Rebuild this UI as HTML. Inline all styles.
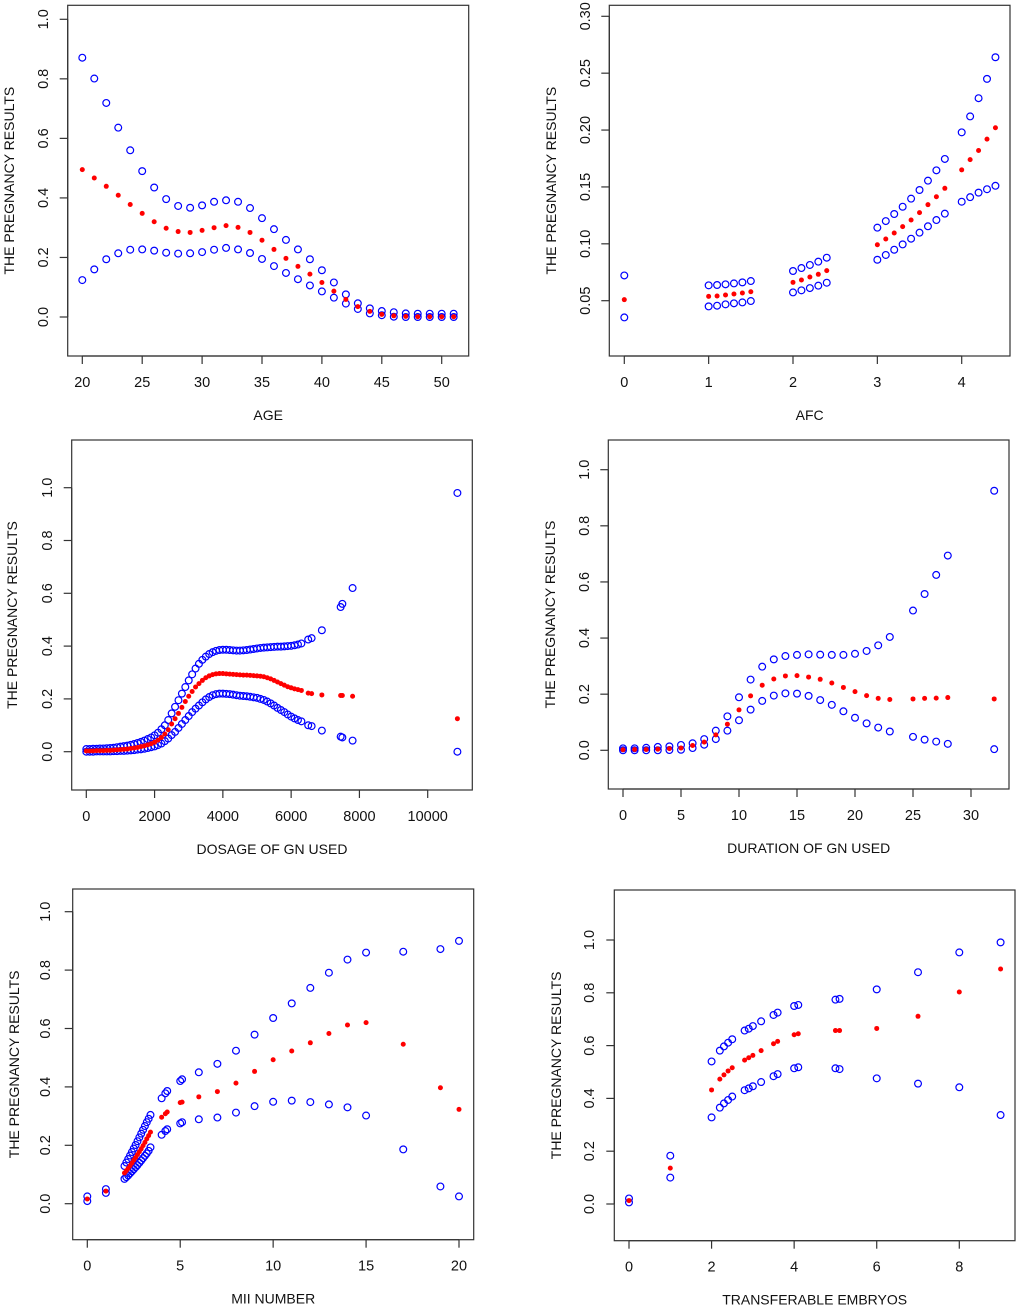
<!DOCTYPE html>
<html><head><meta charset="utf-8">
<style>
html,body{margin:0;padding:0;background:#fff;}
svg{display:block;font-family:"Liberation Sans",Arial,sans-serif;}
</style></head>
<body>
<svg id="chart" width="1020" height="1309" viewBox="0 0 1020 1309" xmlns="http://www.w3.org/2000/svg"></svg>
<script>
// ---- Panel 1: AGE ----
const ageX = [20,21,22,23,24,25,26,27,28,29,30,31,32,33,34,35,36,37,38,39,40,41,42,43,44,45,46,47,48,49,50,51];
const ageUpper = [0.871,0.801,0.719,0.636,0.560,0.490,0.435,0.396,0.373,0.367,0.375,0.387,0.392,0.387,0.366,0.332,0.295,0.259,0.227,0.194,0.157,0.116,0.076,0.046,0.029,0.020,0.016,0.012,0.011,0.011,0.011,0.011];
const ageMid = [0.495,0.467,0.439,0.409,0.378,0.348,0.320,0.298,0.287,0.284,0.291,0.300,0.307,0.301,0.284,0.258,0.227,0.197,0.170,0.144,0.116,0.087,0.059,0.035,0.019,0.009,0.004,0.002,0.001,0.001,0.001,0.001];
const ageLower = [0.124,0.160,0.194,0.214,0.226,0.227,0.223,0.216,0.213,0.214,0.218,0.226,0.232,0.227,0.215,0.195,0.171,0.148,0.127,0.106,0.086,0.065,0.045,0.027,0.012,0.006,0.001,0,0,0,0,0];
const ageXTicks = [20,25,30,35,40,45,50];
const ageYTicks = ["0.0","0.2","0.4","0.6","0.8","1.0"];

// ---- Panel 2: AFC ----
const afcX = [0,1,1.1,1.2,1.3,1.4,1.5,2,2.1,2.2,2.3,2.4,3,3.1,3.2,3.3,3.4,3.5,3.6,3.7,3.8,4,4.1,4.2,4.3,4.4];
const afcUpper = [0.0722,0.0635,0.0638,0.0644,0.0652,0.0661,0.0673,0.0761,0.0787,0.0814,0.0843,0.0878,0.1142,0.1200,0.1262,0.1326,0.1397,0.1473,0.1555,0.1646,0.1746,0.198,0.212,0.228,0.245,0.264];
const afcMid = [0.0509,0.0538,0.0541,0.0550,0.0559,0.0568,0.0579,0.0661,0.0682,0.0708,0.0732,0.0764,0.0992,0.1042,0.1095,0.1151,0.1209,0.1274,0.1344,0.1414,0.1488,0.165,0.174,0.182,0.192,0.202];
const afcLower = [0.0353,0.0450,0.0456,0.0468,0.0477,0.0485,0.0497,0.0573,0.0591,0.0611,0.0632,0.0658,0.0860,0.0902,0.0948,0.0995,0.1045,0.1098,0.1154,0.1209,0.1265,0.137,0.141,0.145,0.148,0.151];
const afcXTicks = [0,1,2,3,4];
const afcYTicks = ["0.05","0.10","0.15","0.20","0.25","0.30"];

// ---- Panel 3: DOSAGE OF GN USED ----
const doseX = [0,100,200,300,400,500,600,700,800,900,1000,1100,1200,1300,1400,1500,1600,1700,1800,1900,2000,2100,2200,2300,2400,2500,2600,2700,2800,2900,3000,3100,3200,3300,3400,3500,3600,3700,3800,3900,4000,4100,4200,4300,4400,4500,4600,4700,4800,4900,5000,5100,5200,5300,5400,5500,5600,5700,5800,5900,6000,6100,6200,6300,6500,6600,6900,7450,7500,7800,10870];
const doseUpper = [0.010,0.010,0.011,0.011,0.012,0.012,0.013,0.014,0.015,0.017,0.019,0.021,0.023,0.026,0.029,0.033,0.037,0.042,0.048,0.054,0.062,0.072,0.085,0.100,0.120,0.145,0.170,0.195,0.220,0.245,0.270,0.293,0.315,0.333,0.348,0.360,0.370,0.377,0.382,0.385,0.386,0.386,0.385,0.384,0.383,0.383,0.384,0.385,0.387,0.389,0.391,0.393,0.394,0.395,0.396,0.397,0.398,0.398,0.399,0.400,0.401,0.403,0.406,0.410,0.425,0.430,0.460,0.548,0.560,0.620,0.980];
const doseMid = [0.003,0.003,0.003,0.004,0.004,0.004,0.005,0.005,0.006,0.007,0.008,0.009,0.010,0.012,0.014,0.016,0.019,0.022,0.026,0.030,0.036,0.044,0.054,0.067,0.083,0.105,0.125,0.145,0.168,0.190,0.210,0.228,0.245,0.258,0.270,0.280,0.287,0.292,0.295,0.296,0.296,0.295,0.294,0.293,0.292,0.291,0.290,0.290,0.289,0.288,0.287,0.286,0.284,0.280,0.276,0.270,0.264,0.258,0.252,0.246,0.242,0.238,0.235,0.232,0.222,0.220,0.215,0.213,0.213,0.210,0.125];
const doseLower = [0.000,0.000,0.000,0.001,0.001,0.001,0.001,0.001,0.002,0.002,0.003,0.003,0.004,0.005,0.006,0.008,0.009,0.011,0.014,0.017,0.020,0.025,0.031,0.040,0.050,0.063,0.075,0.090,0.105,0.120,0.135,0.150,0.163,0.175,0.187,0.198,0.207,0.214,0.218,0.220,0.220,0.219,0.218,0.216,0.214,0.212,0.211,0.210,0.208,0.206,0.204,0.200,0.196,0.190,0.183,0.175,0.166,0.158,0.150,0.141,0.133,0.126,0.120,0.115,0.100,0.097,0.080,0.057,0.054,0.042,0.000];
const doseXTicks = [0,2000,4000,6000,8000,10000];
const doseYTicks = ["0.0","0.2","0.4","0.6","0.8","1.0"];

// ---- Panel 4: DURATION OF GN USED ----
const durX = [0,1,2,3,4,5,6,7,8,9,10,11,12,13,14,15,16,17,18,19,20,21,22,23,25,26,27,28,32];
const durUpper = [0.007,0.007,0.009,0.012,0.014,0.019,0.025,0.040,0.070,0.121,0.189,0.252,0.298,0.324,0.336,0.340,0.342,0.341,0.340,0.340,0.344,0.354,0.374,0.404,0.498,0.557,0.625,0.694,0.925];
const durMid = [0.002,0.003,0.003,0.004,0.006,0.008,0.017,0.029,0.055,0.093,0.144,0.194,0.232,0.254,0.265,0.266,0.261,0.253,0.240,0.224,0.209,0.195,0.185,0.181,0.183,0.185,0.186,0.188,0.183];
const durLower = [0.000,0.000,0.000,0.000,0.001,0.002,0.008,0.020,0.040,0.070,0.107,0.145,0.176,0.195,0.203,0.202,0.194,0.179,0.162,0.139,0.116,0.096,0.081,0.067,0.048,0.038,0.031,0.023,0.004];
const durXTicks = [0,5,10,15,20,25,30];
const durYTicks = ["0.0","0.2","0.4","0.6","0.8","1.0"];

// ---- Panel 5: MII NUMBER ----
const miiX = [0,1,2,2.1,2.2,2.3,2.4,2.5,2.6,2.7,2.8,2.9,3,3.1,3.2,3.3,3.4,4,4.2,4.3,5,5.1,6,7,8,9,10,11,12,13,14,15,17,19,20];
const miiUpper = [0.025,0.050,0.129,0.141,0.153,0.165,0.177,0.189,0.201,0.214,0.227,0.240,0.253,0.266,0.279,0.291,0.304,0.361,0.378,0.386,0.420,0.426,0.450,0.479,0.524,0.579,0.636,0.686,0.739,0.791,0.836,0.860,0.863,0.872,0.900];
const miiMid = [0.016,0.043,0.105,0.113,0.121,0.130,0.139,0.149,0.158,0.168,0.178,0.188,0.199,0.210,0.222,0.233,0.245,0.296,0.308,0.314,0.346,0.348,0.366,0.384,0.413,0.453,0.493,0.523,0.551,0.583,0.612,0.620,0.546,0.397,0.323];
const miiLower = [0.009,0.037,0.085,0.091,0.097,0.104,0.111,0.118,0.125,0.132,0.140,0.148,0.156,0.164,0.172,0.181,0.193,0.236,0.249,0.255,0.275,0.279,0.289,0.295,0.312,0.334,0.349,0.353,0.348,0.340,0.330,0.302,0.186,0.059,0.025];
const miiXTicks = [0,5,10,15,20];
const miiYTicks = ["0.0","0.2","0.4","0.6","0.8","1.0"];

// ---- Panel 6: TRANSFERABLE EMBRYOS ----
const embX = [0,1,2,2.2,2.3,2.4,2.5,2.8,2.9,3.0,3.2,3.5,3.6,4.0,4.1,5.0,5.1,6,7,8,9];
const embUpper = [0.021,0.183,0.540,0.581,0.597,0.611,0.624,0.657,0.664,0.674,0.692,0.716,0.725,0.750,0.754,0.774,0.777,0.813,0.878,0.953,0.991];
const embMid = [0.013,0.136,0.432,0.473,0.489,0.504,0.516,0.545,0.554,0.563,0.581,0.607,0.616,0.641,0.645,0.657,0.657,0.665,0.711,0.803,0.890];
const embLower = [0.006,0.100,0.328,0.365,0.381,0.394,0.407,0.431,0.438,0.446,0.462,0.484,0.492,0.514,0.518,0.514,0.511,0.476,0.456,0.442,0.337];
const embXTicks = [0,2,4,6,8];
const embYTicks = ["0.0","0.2","0.4","0.6","0.8","1.0"];

const NS = "http://www.w3.org/2000/svg";
const svg = document.getElementById("chart");
function mk(tag, attrs, parent){
  const e = document.createElementNS(NS, tag);
  for (const k in attrs) e.setAttribute(k, attrs[k]);
  (parent||svg).appendChild(e);
  return e;
}

// layout: box, and calibration (value->pixel) for each axis
const panels = [
  {name:"age", box:[67.7,5.3,468.7,356], xc:[20,82.3,50,441.7], yc:[0,317,1,19.3], xs:ageX, up:ageUpper, mid:ageMid, lo:ageLower, xt:ageXTicks, yt:ageYTicks, xtitle:"AGE", ylabX:43, ytitX:9},
  {name:"afc", box:[609.3,5.3,1010,356], xc:[0,624.3,4,961.7], yc:[0.05,300.7,0.30,16.3], xs:afcX, up:afcUpper, mid:afcMid, lo:afcLower, xt:afcXTicks, yt:afcYTicks, xtitle:"AFC", ylabX:585, ytitX:551},
  {name:"dosage", box:[71.7,440,472.3,790], xc:[0,86.3,10000,427.7], yc:[0,751.7,1,487.7], xs:doseX, up:doseUpper, mid:doseMid, lo:doseLower, xt:doseXTicks, yt:doseYTicks, xtitle:"DOSAGE OF GN USED", ylabX:47, ytitX:12},
  {name:"duration", box:[608.3,440,1009,789], xc:[0,623,30,971], yc:[0,750.3,1,469.7], xs:durX, up:durUpper, mid:durMid, lo:durLower, xt:durXTicks, yt:durYTicks, xtitle:"DURATION OF GN USED", ylabX:584, ytitX:550},
  {name:"mii", box:[72.7,889,473.7,1239.7], xc:[0,87.3,20,459], yc:[0,1203.7,1,911.7], xs:miiX, up:miiUpper, mid:miiMid, lo:miiLower, xt:miiXTicks, yt:miiYTicks, xtitle:"MII NUMBER", ylabX:45, ytitX:14},
  {name:"embryos", box:[614.3,890,1015,1240.7], xc:[0,629,8,959.3], yc:[0,1204,1,940], xs:embX, up:embUpper, mid:embMid, lo:embLower, xt:embXTicks, yt:embYTicks, xtitle:"TRANSFERABLE EMBRYOS", ylabX:589, ytitX:556}
];

panels.forEach(p => {
  const g = mk("g", {});
  
  
  const sx = v => p.xc[1] + (v - p.xc[0]) * (p.xc[3] - p.xc[1]) / (p.xc[2] - p.xc[0]);
  const sy = v => p.yc[1] + (v - p.yc[0]) * (p.yc[3] - p.yc[1]) / (p.yc[2] - p.yc[0]);
  const [x0,y0,x1,y1] = p.box;
  const box = mk("rect", {x:x0, y:y0, width:x1-x0, height:y1-y0, fill:"none", stroke:"#333", "stroke-width":1.2}, g);
  
  
  // x axis
  const xa = mk("g", {}, g);
  
  
  const xf = sx(p.xt[0]), xl = sx(p.xt[p.xt.length-1]);
  mk("line", {x1:xf, x2:xl, y1:y1, y2:y1, stroke:"#333", "stroke-width":1.2}, xa);
  p.xt.forEach(t => {
    const x = sx(t);
    mk("line", {x1:x, x2:x, y1:y1, y2:y1+8, stroke:"#333", "stroke-width":1.2}, xa);
    const tx = mk("text", {x:x, y:y1+31, "text-anchor":"middle", "font-size":14.5, fill:"#111"}, xa);
    tx.textContent = t;
    
    
  });
  const xt = mk("text", {x:(x0+x1)/2, y:y1+64, "text-anchor":"middle", "font-size":14, fill:"#111"}, g);
  xt.textContent = p.xtitle;
  
  
  // y axis
  const ya = mk("g", {}, g);
  
  
  const yvals = p.yt.map(Number);
  mk("line", {x1:x0, x2:x0, y1:sy(yvals[0]), y2:sy(yvals[yvals.length-1]), stroke:"#333", "stroke-width":1.2}, ya);
  p.yt.forEach(t => {
    const y = sy(Number(t));
    mk("line", {x1:x0-8, x2:x0, y1:y, y2:y, stroke:"#333", "stroke-width":1.2}, ya);
    const ty = mk("text", {x:p.ylabX, y:y, "text-anchor":"middle", "font-size":14.5, fill:"#111", transform:`rotate(-90 ${p.ylabX} ${y})`, dy:"5"}, ya);
    ty.textContent = t;
    
    
  });
  const cy = (y0+y1)/2;
  const yt = mk("text", {x:p.ytitX, y:cy, "text-anchor":"middle", "font-size":14, fill:"#111", transform:`rotate(-90 ${p.ytitX} ${cy})`, dy:"5"}, g);
  yt.textContent = "THE PREGNANCY RESULTS";
  
  
  // series
  const drawOpen = (vals, label) => {
    const sg = mk("g", {}, g);
    
    
    vals.forEach((v, i) => {
      const c = mk("circle", {cx:sx(p.xs[i]), cy:sy(v), r:3.4, fill:"none", stroke:"#0000ff", "stroke-width":1.2}, sg);
      
      
    });
  };
  drawOpen(p.up, "upper-ci");
  drawOpen(p.lo, "lower-ci");
  const mg = mk("g", {}, g);
  
  
  p.mid.forEach((v, i) => {
    const c = mk("circle", {cx:sx(p.xs[i]), cy:sy(v), r:2.5, fill:"#ff0000"}, mg);
    
    
  });
});
</script>
</body></html>
